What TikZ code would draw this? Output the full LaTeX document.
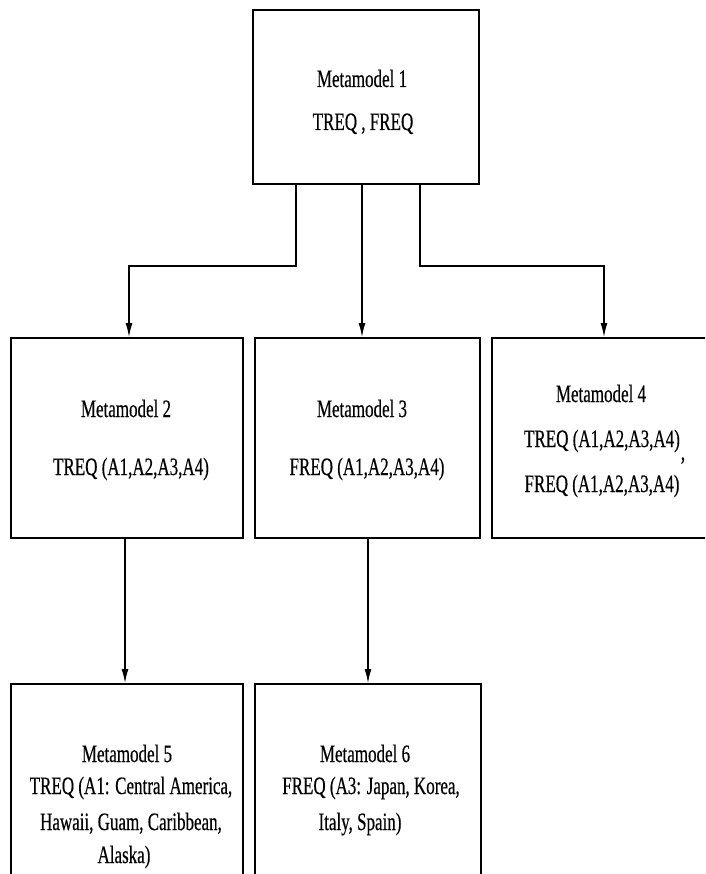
\documentclass[tikz,border=0pt]{standalone}
\usepackage{fontspec}
\setmainfont{Liberation Serif}[FakeStretch=0.68,FakeBold=0.4]
\usetikzlibrary{arrows.meta,calc}

\tikzset{
  box/.style={draw, line width=2pt, rectangle, inner sep=0pt},
  txt/.style={anchor=base, inner sep=0pt, font=\fontsize{25}{29}\selectfont},
  arr/.style={line width=1.3pt, -{Latex[length=14pt,width=7pt]}}
}

\begin{document}
\begin{tikzpicture}[x=1pt,y=1pt]
    % Cadre de la page
    \useasboundingbox (0,0) rectangle (705,-874);
    \fill[white] (0,0) rectangle (705,-874);
    \clip (0,0) rectangle (705,-874);

    % Dessiner les boites
    \node[box, minimum width=226pt, minimum height=174pt] (m1) at (366,-97) {};
    \node[box, minimum width=232pt, minimum height=200pt] (m2) at (127,-438) {};
    \node[box, minimum width=225pt, minimum height=200pt] (m3) at (367.5,-438) {};
    \node[box, minimum width=228pt, minimum height=200pt] (m4) at (606,-438) {};
    \node[box, minimum width=232pt, minimum height=240pt] (m5) at (127,-804) {};
    \node[box, minimum width=226pt, minimum height=240pt] (m6) at (368,-804) {};

    % Textes des metamodeles
    \node[txt] (m1a) at (362,-87) {Metamodel 1};
    \node[txt] (m1b) at (363,-130) {TREQ , FREQ};
    \node[txt] (m2a) at (126,-417) {Metamodel 2};
    \node[txt] (m2b) at (131,-475) {TREQ (A1,A2,A3,A4)};
    \node[txt] (m3a) at (362,-417) {Metamodel 3};
    \node[txt] (m3b) at (367,-475) {FREQ (A1,A2,A3,A4)};
    \node[txt] (m4a) at (601,-402) {Metamodel 4};
    \node[txt] (m4b) at (602,-447) {TREQ (A1,A2,A3,A4)};
    \node[txt] (m4c) at (683,-460) {,};
    \node[txt] (m4d) at (602,-492) {FREQ (A1,A2,A3,A4)};
    \node[txt] (m5a) at (127,-762) {Metamodel 5};
    \node[txt] (m5b) at (131,-794) {TREQ (A1: Central America,};
    \node[txt] (m5c) at (131,-830) {Hawaii, Guam, Caribbean,};
    \node[txt] (m5d) at (124,-863) {Alaska)};
    \node[txt] (m6a) at (365,-762) {Metamodel 6};
    \node[txt] (m6b) at (371,-794) {FREQ (A3: Japan, Korea,};
    \node[txt] (m6c) at (360,-830) {Italy, Spain)};

    % Ajouter les fleches
    \draw[arr] ($(m1.south)+(-70,0)$) -- ++(0,-81) -| ($(m2.north)+(2,0)$);
    \draw[arr] ($(m1.south)+(-4,0)$) coordinate (c3) -- (c3 |- m3.north);
    \draw[arr] ($(m1.south)+(54,0)$) -- ++(0,-81) -| ($(m4.north)+(-2,0)$);
    \draw[arr] ($(m2.south)+(-2,0)$) coordinate (c5) -- (c5 |- m5.north);
    \draw[arr] ($(m3.south)+(0.5,0)$) coordinate (c6) -- (c6 |- m6.north);

\end{tikzpicture}
\end{document}
